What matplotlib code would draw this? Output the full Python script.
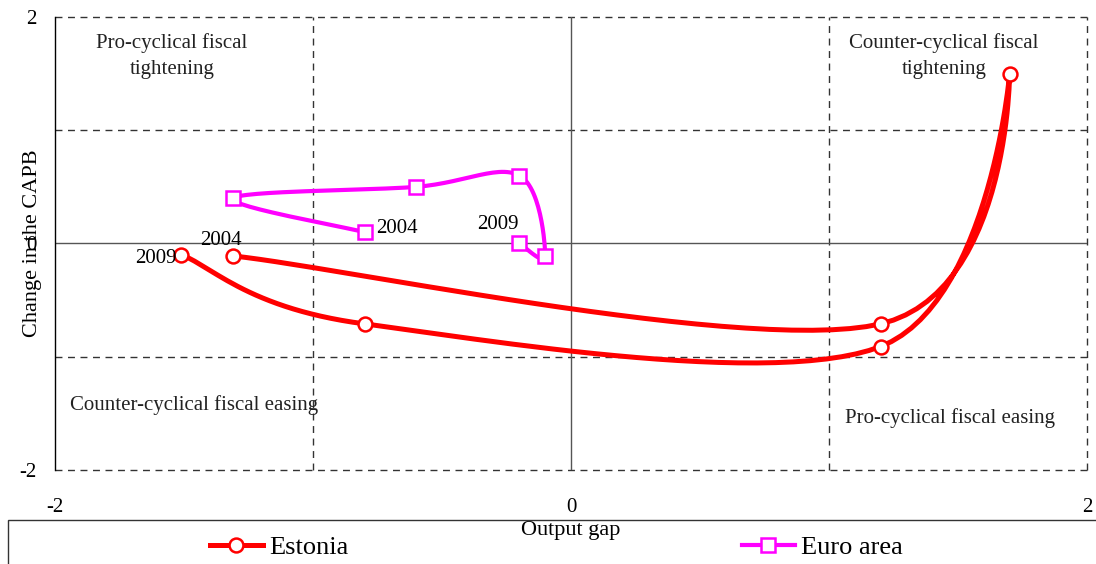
import numpy as np
import matplotlib
matplotlib.use("Agg")
import matplotlib.pyplot as plt
from matplotlib.lines import Line2D

plt.rcParams["font.family"] = ["Liberation Serif", "DejaVu Serif"]
plt.rcParams["axes.unicode_minus"] = False

# ==========================================================
# Data (output gap, change in CAPB), 2004 -> 2009
# ==========================================================

estonia_x = [-1.31, 1.20, 1.70, 1.20, -0.80, -1.51]
estonia_y = [-0.11, -0.71, 1.50, -0.91, -0.71, -0.10]

euro_x = [-0.80, -1.31, -0.60, -0.20, -0.10, -0.20]
euro_y = [0.10, 0.40, 0.50, 0.60, -0.11, 0.00]

red = "#FF0000"
magenta = "#FF00FF"


def smooth(x, y, n=30):
    # Catmull-Rom curve through the points, like Excel smoothed lines
    p = np.column_stack([x, y]).astype(float)
    p = np.vstack([p[0], p, p[-1]])
    out = []
    for i in range(1, len(p) - 2):
        p0, p1, p2, p3 = p[i - 1], p[i], p[i + 1], p[i + 2]
        c1 = p1 + (p2 - p0) / 6
        c2 = p2 - (p3 - p1) / 6
        t = np.linspace(0, 1, n)[:, None]
        seg = ((1 - t) ** 3) * p1 + 3 * ((1 - t) ** 2) * t * c1 \
            + 3 * (1 - t) * t ** 2 * c2 + t ** 3 * p2
        out.append(seg)
    out = np.vstack(out)
    return out[:, 0], out[:, 1]


fig = plt.figure(figsize=(10.96, 5.64), dpi=100)
ax = fig.add_axes([0.0502, 0.1667, 0.9416, 0.8032])

ax.set_xlim(-2, 2)
ax.set_ylim(-2, 2)

# grid / quadrant lines
dash = (0, (5, 4))
for v in [-1, 1, 2]:
    ax.axvline(v, color="#333333", linestyle=dash, lw=1.0, zorder=1,
               clip_on=False)
for v in [-2, -1, 1, 2]:
    ax.axhline(v, color="#333333", linestyle=dash, lw=1.0, zorder=1,
               clip_on=False)
ax.axvline(0, color="#555555", lw=1.0, zorder=1)
ax.axhline(0, color="#555555", lw=1.0, zorder=1)

for s in ["top", "right", "bottom"]:
    ax.spines[s].set_visible(False)
ax.spines["left"].set_linewidth(1.0)

ax.set_xticks([-2, 0, 2])
ax.set_yticks([-2, 0, 2])
ax.tick_params(length=0, labelsize=15)
ax.tick_params(axis="y", pad=13)
ax.tick_params(axis="x", pad=20)

ax.set_ylabel("Change in the CAPB", fontsize=16)
ax.yaxis.set_label_coords(-0.013, 0.5)
ax.set_xlabel("Output gap", fontsize=16, labelpad=3)

# series
sx, sy = smooth(estonia_x, estonia_y)
ax.plot(sx, sy, color=red, lw=3.6, zorder=3, solid_capstyle="round")
ax.plot(estonia_x, estonia_y, "o", ms=10, mfc="white", mec=red, mew=1.8,
        zorder=4)

sx, sy = smooth(euro_x, euro_y)
ax.plot(sx, sy, color=magenta, lw=3.0, zorder=3, solid_capstyle="round")
ax.plot(euro_x, euro_y, "s", ms=10, mfc="white", mec=magenta, mew=1.8,
        zorder=4)

# year labels
ykw = dict(fontsize=15, ha="center", va="center", textcoords="offset pixels",
           zorder=5)
ax.annotate("2004", (estonia_x[0], estonia_y[0]), xytext=(-12, 15), **ykw)
ax.annotate("2009", (estonia_x[-1], estonia_y[-1]), xytext=(-26, -4), **ykw)
ax.annotate("2004", (euro_x[0], euro_y[0]), xytext=(32, 4), **ykw)
ax.annotate("2009", (euro_x[-1], euro_y[-1]), xytext=(-22, 19), **ykw)

# quadrant labels
qkw = dict(fontsize=15, ha="center", va="center", color="#222222",
           linespacing=1.55)
ax.text(-1.547, 1.656, "Pro-cyclical fiscal\ntightening", **qkw)
ax.text(1.446, 1.656, "Counter-cyclical fiscal\ntightening", **qkw)
ax.text(-1.461, -1.43, "Counter-cyclical fiscal easing", **qkw)
ax.text(1.469, -1.545, "Pro-cyclical fiscal easing", **qkw)

# legend box
handles = [
    Line2D([], [], color=red, lw=3.6, marker="o", ms=10, mfc="white",
           mec=red, mew=1.8),
    Line2D([], [], color=magenta, lw=3.0, marker="s", ms=10, mfc="white",
           mec=magenta, mew=1.8),
]
leg = fig.legend(handles, ["Estonia", "Euro area"], loc="lower left",
                 bbox_to_anchor=(0.17, -0.033), ncol=2, frameon=False,
                 fontsize=19, handlelength=2.0, handletextpad=0.25,
                 columnspacing=14.9)

fig.add_artist(plt.Rectangle((0.0075, -0.05), 1.05, 0.128,
                             transform=fig.transFigure, fill=False,
                             ec="#333333", lw=1.0, zorder=0))

fig.savefig("out.png", dpi=100)
